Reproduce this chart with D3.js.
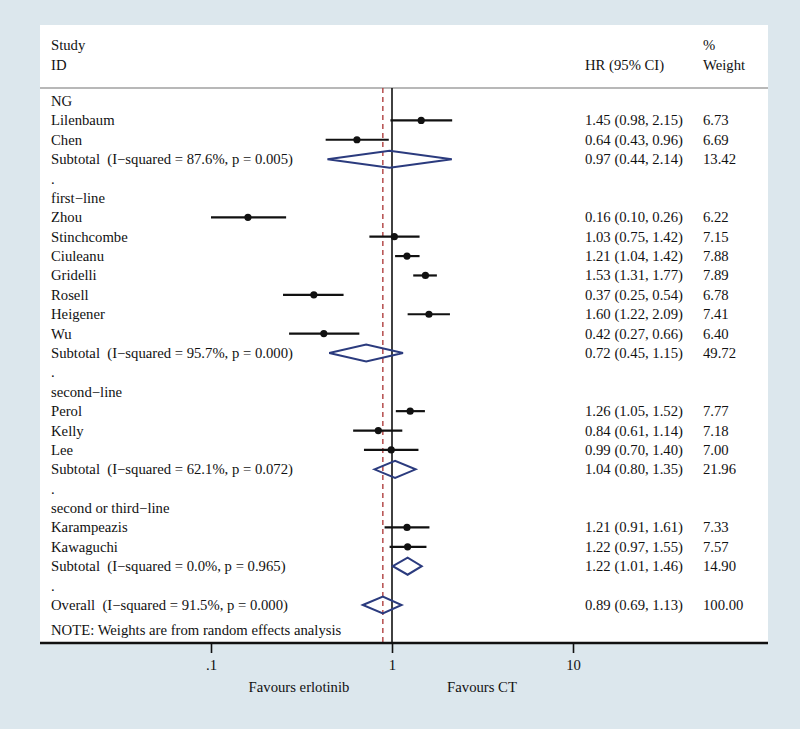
<!DOCTYPE html>
<html>
<head>
<meta charset="utf-8">
<script src="https://cdn.jsdelivr.net/npm/d3@7"></script>
<style>
  body { margin: 0; background: #dce7ed; }
  svg text { font-family: "Liberation Serif", "DejaVu Serif", serif; font-size: 14.7px; fill: #111; white-space: pre; }
</style>
</head>
<body>
<div id="chart"></div>
<script>
// Row labels, top to bottom
const rowLabels = [
  'NG', 'Lilenbaum', 'Chen', 'Subtotal  (I\u2212squared = 87.6%, p = 0.005)', '.',
  'first\u2212line', 'Zhou', 'Stinchcombe', 'Ciuleanu', 'Gridelli', 'Rosell', 'Heigener', 'Wu',
  'Subtotal  (I\u2212squared = 95.7%, p = 0.000)', '.',
  'second\u2212line', 'Perol', 'Kelly', 'Lee', 'Subtotal  (I\u2212squared = 62.1%, p = 0.072)', '.',
  'second or third\u2212line', 'Karampeazis', 'Kawaguchi', 'Subtotal  (I\u2212squared = 0.0%, p = 0.965)', '.',
  'Overall  (I\u2212squared = 91.5%, p = 0.000)'
];
// kind of each row: g = group header, s = study, d = pooled (diamond), b = blank
const rowKinds = ['g','s','s','d','b', 'g','s','s','s','s','s','s','s','d','b',
  'g','s','s','s','d','b', 'g','s','s','d','b', 'd'];
const hrValues = [null, 1.45, 0.64, 0.97, null, null, 0.16, 1.03, 1.21, 1.53, 0.37, 1.60, 0.42, 0.72, null,
  null, 1.26, 0.84, 0.99, 1.04, null, null, 1.21, 1.22, 1.22, null, 0.89];
const ciLower = [null, 0.98, 0.43, 0.44, null, null, 0.10, 0.75, 1.04, 1.31, 0.25, 1.22, 0.27, 0.45, null,
  null, 1.05, 0.61, 0.70, 0.80, null, null, 0.91, 0.97, 1.01, null, 0.69];
const ciUpper = [null, 2.15, 0.96, 2.14, null, null, 0.26, 1.42, 1.42, 1.77, 0.54, 2.09, 0.66, 1.15, null,
  null, 1.52, 1.14, 1.40, 1.35, null, null, 1.61, 1.55, 1.46, null, 1.13];
const weights = [null, '6.73', '6.69', '13.42', null, null, '6.22', '7.15', '7.88', '7.89', '6.78', '7.41', '6.40', '49.72', null,
  null, '7.77', '7.18', '7.00', '21.96', null, null, '7.33', '7.57', '14.90', null, '100.00'];
const axisTicks = [0.1, 1, 10];
const axisTickLabels = ['.1', '1', '10'];
const overallHR = 0.89;

const W = 800, H = 729;
const panel = { left: 40, top: 25, right: 768, bottom: 643 };
const headerLine = 88;

const svg = d3.select('#chart').append('svg')
  .attr('width', W).attr('height', H);

svg.append('rect').attr('width', W).attr('height', H).attr('fill', '#dce7ed');
svg.append('rect')
  .attr('x', panel.left).attr('y', panel.top)
  .attr('width', panel.right - panel.left).attr('height', panel.bottom - panel.top)
  .attr('fill', '#ffffff');

// scales
const x = d3.scaleLog().domain([0.1, 10]).range([211, 573]);
const y = d3.scaleLinear().domain([0, rowLabels.length - 1]).range([101, 605]);

// header
svg.append('text').attr('x', 51).attr('y', 50).text('Study');
svg.append('text').attr('x', 51).attr('y', 70).text('ID');
svg.append('text').attr('x', 585).attr('y', 70).text('HR (95% CI)');
svg.append('text').attr('x', 703).attr('y', 50).text('%');
svg.append('text').attr('x', 703).attr('y', 70).text('Weight');
svg.append('line')
  .attr('x1', panel.left).attr('x2', panel.right)
  .attr('y1', headerLine).attr('y2', headerLine)
  .attr('stroke', '#a0a0a0').attr('stroke-width', 1.5);

// reference lines
svg.append('line')
  .attr('x1', x(1)).attr('x2', x(1))
  .attr('y1', headerLine).attr('y2', panel.bottom)
  .attr('stroke', '#111').attr('stroke-width', 1.6);
svg.append('line')
  .attr('x1', x(overallHR)).attr('x2', x(overallHR))
  .attr('y1', headerLine).attr('y2', panel.bottom)
  .attr('stroke', '#b04040').attr('stroke-width', 1.4)
  .attr('stroke-dasharray', '5,4');

const rows = rowLabels.map((label, i) => ({
  i, label, kind: rowKinds[i], hr: hrValues[i], lo: ciLower[i], hi: ciUpper[i], w: weights[i]
}));

// labels
svg.selectAll('.lbl').data(rows).enter().append('text')
  .attr('class', 'lbl')
  .attr('x', 51).attr('y', d => y(d.i) + 5)
  .text(d => d.label);

const dataRows = rows.filter(d => d.hr != null);
svg.selectAll('.hrtxt').data(dataRows).enter().append('text')
  .attr('x', 585).attr('y', d => y(d.i) + 5)
  .text(d => `${d.hr.toFixed(2)} (${d.lo.toFixed(2)}, ${d.hi.toFixed(2)})`);
svg.selectAll('.wtxt').data(dataRows).enter().append('text')
  .attr('x', 703).attr('y', d => y(d.i) + 5)
  .text(d => d.w);

// studies: CI line + dot
const studies = dataRows.filter(d => d.kind === 's');
svg.selectAll('.ci').data(studies).enter().append('line')
  .attr('x1', d => x(d.lo)).attr('x2', d => x(d.hi))
  .attr('y1', d => y(d.i)).attr('y2', d => y(d.i))
  .attr('stroke', '#111').attr('stroke-width', 2.2);
svg.selectAll('.dot').data(studies).enter().append('circle')
  .attr('cx', d => x(d.hr)).attr('cy', d => y(d.i)).attr('r', 3.6)
  .attr('fill', '#111');

// pooled diamonds
const pooled = dataRows.filter(d => d.kind === 'd');
svg.selectAll('.dia').data(pooled).enter().append('path')
  .attr('d', d => {
    const cy = y(d.i), h = 8.5;
    return `M${x(d.lo)},${cy}L${x(d.hr)},${cy - h}L${x(d.hi)},${cy}L${x(d.hr)},${cy + h}Z`;
  })
  .attr('fill', 'none').attr('stroke', '#2b3b7e').attr('stroke-width', 2);

// note
svg.append('text').attr('x', 51).attr('y', 635)
  .text('NOTE: Weights are from random effects analysis');

// x axis
svg.append('line')
  .attr('x1', panel.left).attr('x2', panel.right)
  .attr('y1', panel.bottom).attr('y2', panel.bottom)
  .attr('stroke', '#111').attr('stroke-width', 2.5);
const axis = svg.append('g').attr('transform', `translate(0,${panel.bottom})`)
  .call(d3.axisBottom(x).tickValues(axisTicks)
    .tickFormat((d, i) => axisTickLabels[i]).tickSize(10).tickPadding(7));
axis.select('.domain').remove();
axis.selectAll('line').attr('stroke', '#111').attr('stroke-width', 1.6);
axis.selectAll('text').attr('font-family', null).attr('font-size', null).attr('fill', '#111');

svg.append('text').attr('x', x(1) - 93).attr('y', 692).attr('text-anchor', 'middle').text('Favours erlotinib');
svg.append('text').attr('x', x(1) + 90).attr('y', 692).attr('text-anchor', 'middle').text('Favours CT');
</script>
</body>
</html>
